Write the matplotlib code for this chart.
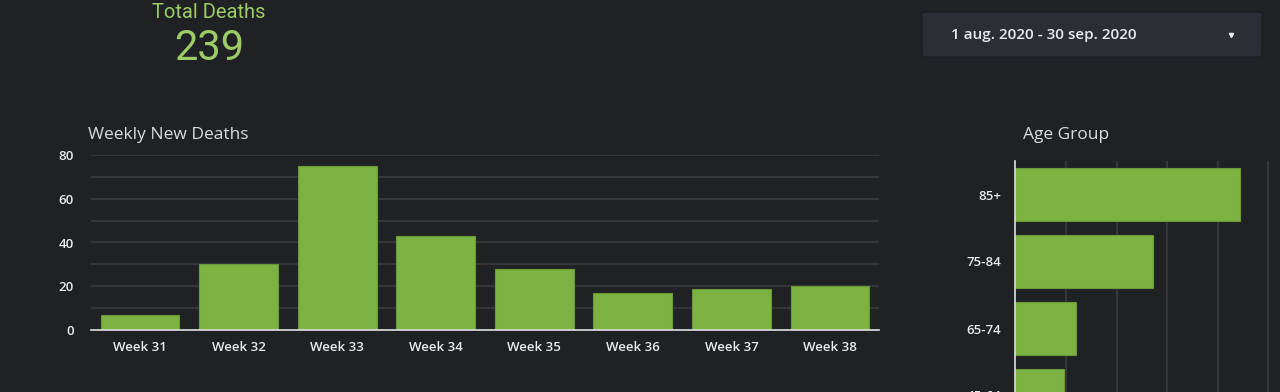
import matplotlib
matplotlib.use("Agg")
from matplotlib import pyplot as plt
from matplotlib.patches import FancyBboxPatch
from matplotlib.lines import Line2D
import numpy as np

# data
weeks = ["Week 31", "Week 32", "Week 33", "Week 34", "Week 35", "Week 36", "Week 37", "Week 38"]
weekly_deaths = [7, 30, 75, 43, 28, 17, 19, 20]
age_groups = ["85+", "75-84", "65-74", "45-64"]
age_deaths = [111, 68, 30, 24]
total_deaths = 239
date_range = "1 aug. 2020 - 30 sep. 2020"

bg = "#202124"
bar_col = "#7cb342"
edge_col = "#6a9a37"
grid_col = "#3a3b3e"
tick_col = "#e8eaed"
title_col = "#dadce0"

W, H = 1280, 392
fig = plt.figure(figsize=(W / 100, H / 100), dpi=100, facecolor=bg)


def fx(px):
    return px / W


def fy(py):
    return 1 - py / H


# scorecard
fig.text(fx(209), fy(12), "Total Deaths", color="#9ccc65", fontsize=14.5,
         family="Roboto", ha="center", va="center")
fig.text(fx(209), fy(48), str(total_deaths), color="#9ccc65", fontsize=30,
         family="Roboto", ha="center", va="center")

# date range control
box = FancyBboxPatch((fx(922), fy(57)), fx(1262) - fx(922), fy(12) - fy(57),
                     boxstyle="round,pad=0,rounding_size=0.003",
                     transform=fig.transFigure, facecolor="#2c2e35",
                     edgecolor="#1a1b1e", linewidth=0.8)
fig.patches.append(box)
fig.text(fx(951), fy(35), date_range, color=tick_col, fontsize=11,
         family="Open Sans", weight="semibold", ha="left", va="center")
fig.add_artist(Line2D([fx(1231)], [fy(35)], transform=fig.transFigure,
                      marker="v", markersize=3, color=tick_col, linestyle="none"))

# weekly new deaths
ax = fig.add_axes([fx(90.7), fy(330.3), fx(879.3) - fx(90.7), fy(154.7) - fy(330.3)])
ax.set_facecolor(bg)
x = np.arange(len(weeks))
ax.bar(x, weekly_deaths, width=0.8, color=bar_col, edgecolor=edge_col, linewidth=0.8, zorder=3)
ax.set_xlim(-0.5, len(weeks) - 0.5)
ax.set_ylim(0, 80)
ax.set_yticks(np.arange(0, 81, 20))
ax.set_yticks(np.arange(10, 80, 20), minor=True)
ax.grid(axis="y", which="both", color=grid_col, linewidth=1.2, zorder=0)
ax.set_xticks(x)
ax.set_xticklabels(weeks)
for s in ["top", "right", "left"]:
    ax.spines[s].set_visible(False)
ax.spines["bottom"].set_color("#e0e0e0")
ax.spines["bottom"].set_linewidth(1.2)
ax.spines["bottom"].set_zorder(4)
ax.tick_params(axis="both", which="both", length=0, colors=tick_col, labelsize=9.5)
ax.tick_params(axis="y", pad=12)
ax.tick_params(axis="x", pad=8)
for lab in ax.get_xticklabels() + ax.get_yticklabels():
    lab.set_family("Open Sans")
    lab.set_weight("semibold")
fig.text(fx(88), fy(135), "Weekly New Deaths", color=title_col, fontsize=12.5,
         family="Open Sans", ha="left", va="center")

# age group (chart runs past the bottom edge, as in the dashboard)
ax2 = fig.add_axes([fx(1015.3), fy(429), 130 * 2.024 / W, fy(161) - fy(429)])
ax2.set_facecolor(bg)
y = np.arange(len(age_groups))
ax2.barh(y, age_deaths, height=0.8, color=bar_col, edgecolor=edge_col, linewidth=0.8, zorder=3)
ax2.set_ylim(len(age_groups) - 0.5, -0.5)
ax2.set_xlim(0, 130)
ax2.set_xticks(np.arange(25, 130, 25))
ax2.grid(axis="x", color=grid_col, linewidth=1.2, zorder=0)
ax2.set_yticks(y)
ax2.set_yticklabels(age_groups)
for s in ["top", "right", "bottom"]:
    ax2.spines[s].set_visible(False)
ax2.spines["left"].set_color("#e0e0e0")
ax2.spines["left"].set_linewidth(1.2)
ax2.spines["left"].set_zorder(4)
ax2.tick_params(axis="both", length=0, colors=tick_col, labelsize=9.5)
ax2.tick_params(axis="y", pad=10)
ax2.tick_params(axis="x", labelbottom=False)
for lab in ax2.get_yticklabels():
    lab.set_family("Open Sans")
    lab.set_weight("semibold")
fig.text(fx(1023), fy(135), "Age Group", color=title_col, fontsize=12.5,
         family="Open Sans", ha="left", va="center")

fig.savefig("out.png", facecolor=bg)
